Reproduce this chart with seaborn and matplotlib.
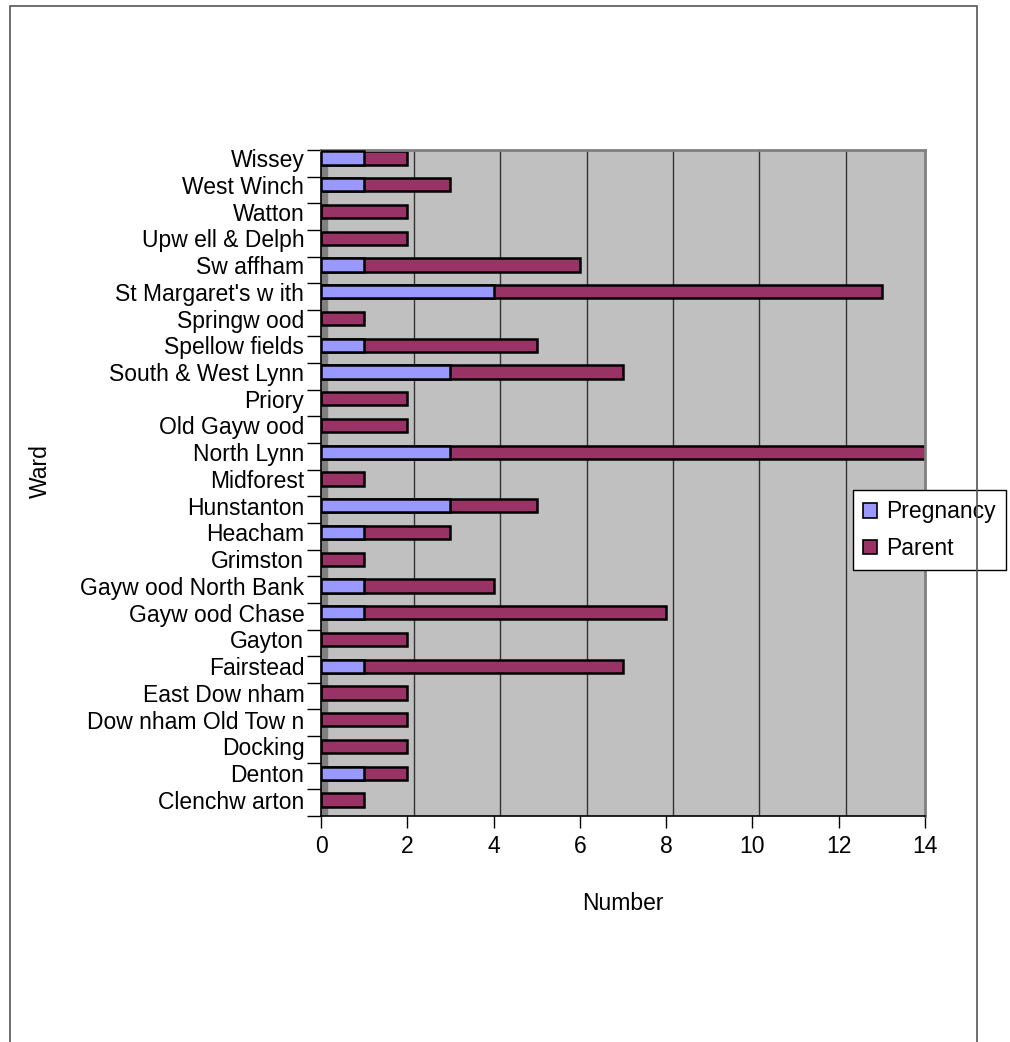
import matplotlib
matplotlib.use("Agg")
from matplotlib import pyplot as plt
from matplotlib.patches import Rectangle
import numpy as np
import pandas as pd
import seaborn as sns

# wards as listed from top to bottom of the chart
wards = ["Wissey", "West Winch", "Watton", "Upw ell & Delph", "Sw affham",
         "St Margaret's w ith", "Springw ood", "Spellow fields", "South & West Lynn",
         "Priory", "Old Gayw ood", "North Lynn", "Midforest", "Hunstanton",
         "Heacham", "Grimston", "Gayw ood North Bank", "Gayw ood Chase", "Gayton",
         "Fairstead", "East Dow nham", "Dow nham Old Tow n", "Docking", "Denton",
         "Clenchw arton"]
pregnancy = [1, 1, 0, 0, 1, 4, 0, 1, 3, 0, 0, 3, 0, 3, 1, 0, 1, 1, 0, 1, 0, 0, 0, 1, 0]
parent = [1, 2, 2, 2, 5, 9, 1, 4, 4, 2, 2, 11, 1, 2, 2, 1, 3, 7, 2, 6, 2, 2, 2, 1, 1]
x_ticks = [0, 2, 4, 6, 8, 10, 12, 14]

df = pd.DataFrame({"Ward": wards, "Pregnancy": pregnancy, "Parent": parent})
df["Total"] = df["Pregnancy"] + df["Parent"]

sns.set_style("white")
plt.rcParams["font.family"] = ["Liberation Sans", "DejaVu Sans"]
plt.rcParams["text.color"] = "black"
plt.rcParams["axes.labelcolor"] = "black"
plt.rcParams["xtick.color"] = "black"
plt.rcParams["ytick.color"] = "black"
FS = 16.5

fig = plt.figure(figsize=(10.1, 10.42), dpi=100)
ax = fig.add_axes([321 / 1010, 1 - 816 / 1042, 604 / 1010, 666 / 1042])

# outer chart border
fig.patches.append(Rectangle((10 / 1010, -0.01), 967 / 1010, 1 - 6 / 1042 + 0.01,
                             transform=fig.transFigure, fill=False,
                             edgecolor="#555555", linewidth=1.2))

ax.set_facecolor("#C0C0C0")
for xv in x_ticks[1:-1]:
    ax.axvline(xv + 0.16, color="#333333", linewidth=1.0, zorder=0.5)
# darker left wall strip of the 3d look
ax.axvspan(0, 0.15, color="#808080", zorder=0.6)

sns.barplot(data=df, x="Total", y="Ward", order=wards, orient="h", color="#993366",
            width=0.5, edgecolor="black", linewidth=1.8, saturation=1,
            label="Parent", ax=ax, zorder=2)
sns.barplot(data=df, x="Pregnancy", y="Ward", order=wards, orient="h", color="#9999FF",
            width=0.5, edgecolor="black", linewidth=1.8, saturation=1,
            label="Pregnancy", ax=ax, zorder=3)

y_top, y_bottom = -0.30, 24.6
ax.set_xlim(0, 14)
ax.set_ylim(y_bottom, y_top)
ax.set_xticks(x_ticks)
ax.set_xticklabels([str(v) for v in x_ticks], fontsize=FS)
ax.tick_params(axis="x", bottom=True, direction="out", length=8.6, width=1,
               color="black", pad=5)
ax.set_yticks(np.arange(len(wards)))
ax.set_yticklabels(wards, fontsize=FS)
ax.tick_params(axis="y", which="major", left=True, length=0, pad=12)
ax.set_yticks(np.linspace(y_top, y_bottom, len(wards) + 1), minor=True)
ax.tick_params(axis="y", which="minor", left=True, direction="out", length=10,
               width=1, color="black")

for side in ["left", "bottom"]:
    ax.spines[side].set_color("black")
    ax.spines[side].set_linewidth(1.2)
for side in ["top", "right"]:
    ax.spines[side].set_color("#808080")
    ax.spines[side].set_linewidth(2)

ax.set_xlabel("Number", fontsize=FS)
ax.xaxis.set_label_coords(0.5, -0.114)
ax.set_ylabel("Ward", fontsize=FS)
ax.yaxis.set_label_coords(-0.445, 0.518)

handles, labels = ax.get_legend_handles_labels()
order = [labels.index("Pregnancy"), labels.index("Parent")]
leg = ax.legend([handles[i] for i in order], [labels[i] for i in order],
                loc="upper left", bbox_to_anchor=(853 / 1010, 1 - 490 / 1042),
                bbox_transform=fig.transFigure, fontsize=FS, frameon=True,
                fancybox=False, edgecolor="black", framealpha=1,
                handlelength=0.6, handleheight=0.6, handletextpad=0.4,
                labelspacing=0.6, borderpad=0.45, borderaxespad=0)
leg.get_frame().set_linewidth(1.0)
for h in leg.legend_handles:
    h.set_linewidth(1.2)

fig.savefig("out.png", dpi=100)
